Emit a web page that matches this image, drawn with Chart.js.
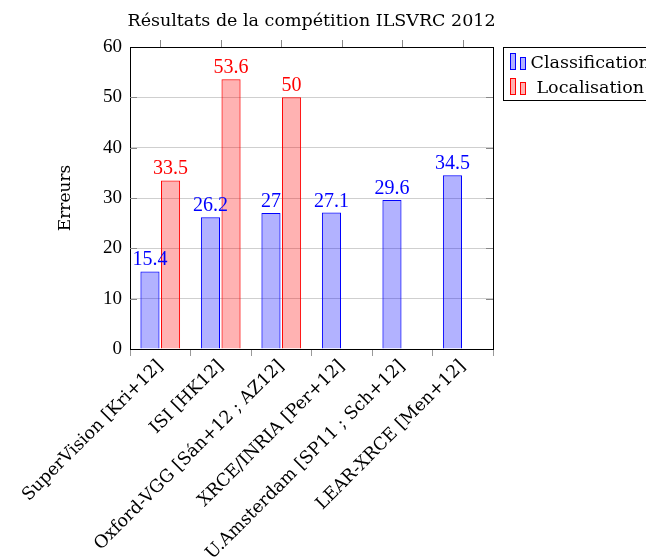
<!DOCTYPE html>
<html>
<head>
<meta charset="utf-8">
<script src="https://cdn.jsdelivr.net/npm/chart.js@4.4.1/dist/chart.umd.min.js"></script>
<style>
  html, body { margin: 0; padding: 0; background: #fff; }
</style>
</head>
<body>
<canvas id="myChart" width="646" height="558"></canvas>
<script>
let labels = ["SuperVision [Kri+12]", "ISI [HK12]", "Oxford-VGG [Sán+12 ; AZ12]", "XRCE/INRIA [Per+12]", "U.Amsterdam [SP11 ; Sch+12]", "LEAR-XRCE [Men+12]"];
let classification = [15.4, 26.2, 27, 27.1, 29.6, 34.5];
let localisation = [33.5, 53.6, 50, null, null, null];
let seriesNames = ["Classification", "Localisation"];
let titleText = "Résultats de la compétition ILSVRC 2012";
let yTitle = "Erreurs";
let yMin = 0, yMax = 60, yStep = 10;

const textFont = "'DejaVu Serif', serif";
const numFont = "'Liberation Serif', serif";

// value labels above bars + frame + legend + titles
const extras = {
  id: 'extras',
  afterDatasetsDraw(chart) {
    const ctx = chart.ctx;
    ctx.save();
    ctx.font = "20px " + numFont;
    ctx.textAlign = 'center';
    ctx.textBaseline = 'alphabetic';
    chart.data.datasets.forEach((ds, i) => {
      ctx.fillStyle = ds.borderColor;
      chart.getDatasetMeta(i).data.forEach((bar, j) => {
        if (ds.data[j] == null) return;
        ctx.fillText(String(ds.data[j]), bar.x, bar.y - 6);
      });
    });
    ctx.restore();
  },
  afterDraw(chart) {
    const ctx = chart.ctx;
    const a = chart.chartArea;
    ctx.save();
    ctx.strokeStyle = '#000';
    ctx.lineWidth = 1;
    ctx.strokeRect(Math.round(a.left) + 0.5, Math.round(a.top) + 0.5, Math.round(a.right - a.left), Math.round(a.bottom - a.top));
    // top ticks
    ctx.strokeStyle = '#888';
    const xs = chart.scales.x;
    labels.forEach((l, i) => {
      const x = Math.round(xs.getPixelForValue(i)) + 0.5;
      ctx.beginPath();
      ctx.moveTo(x, a.top - 7);
      ctx.lineTo(x, a.top);
      ctx.stroke();
    });
    // y ticks on both sides, inside
    const ys = chart.scales.y;
    for (let v = yMin + yStep; v < yMax; v += yStep) {
      const y = Math.round(ys.getPixelForValue(v)) + 0.5;
      ctx.beginPath();
      ctx.moveTo(a.left, y); ctx.lineTo(a.left + 7, y);
      ctx.moveTo(a.right - 7, y); ctx.lineTo(a.right, y);
      ctx.stroke();
    }
    // title
    ctx.fillStyle = '#000';
    ctx.font = "17.5px " + textFont;
    ctx.textAlign = 'center';
    ctx.textBaseline = 'middle';
    ctx.fillText(titleText, (a.left + a.right) / 2, 21);
    // y axis title
    ctx.save();
    ctx.translate(66, (a.top + a.bottom) / 2);
    ctx.rotate(-Math.PI / 2);
    ctx.font = "17px " + textFont;
    ctx.fillText(yTitle, 0, 0);
    ctx.restore();
    // legend
    const lx = 503.5, ly = 47.5;
    ctx.strokeStyle = '#000';
    ctx.strokeRect(lx, ly, 200, 53);
    ctx.font = "17.5px " + textFont;
    ctx.textBaseline = 'middle';
    ctx.textAlign = 'left';
    chart.data.datasets.forEach((ds, i) => {
      const cy = ly + 15 + i * 25;
      ctx.fillStyle = ds.backgroundColor;
      ctx.strokeStyle = ds.borderColor;
      ctx.fillRect(lx + 7, cy - 9, 5, 16);
      ctx.strokeRect(lx + 7, cy - 9, 5, 16);
      ctx.fillRect(lx + 17, cy - 5, 5, 12);
      ctx.strokeRect(lx + 17, cy - 5, 5, 12);
      ctx.fillStyle = '#000';
      ctx.fillText(seriesNames[i], lx + (i === 0 ? 27 : 33), cy + 1);
    });
    ctx.restore();
  }
};

let ctx = document.getElementById("myChart").getContext('2d');

let chart = new Chart(ctx, {
  type: 'bar',
  data: {
    labels: labels,
    datasets: [{
      label: seriesNames[0],
      data: classification,
      backgroundColor: 'rgba(0, 0, 255, 0.3)',
      borderColor: 'rgb(0, 0, 255)',
      borderWidth: 1,
      categoryPercentage: 0.68,
      barPercentage: 0.93
    }, {
      label: seriesNames[1],
      data: localisation,
      backgroundColor: 'rgba(255, 0, 0, 0.3)',
      borderColor: 'rgb(255, 0, 0)',
      borderWidth: 1,
      categoryPercentage: 0.68,
      barPercentage: 0.93
    }]
  },
  options: {
    responsive: false,
    animation: false,
    layout: { padding: { top: 47, right: 153, left: 0, bottom: 0 } },
    plugins: {
      legend: { display: false },
      tooltip: { enabled: false },
      title: { display: false }
    },
    scales: {
      x: {
        afterFit: s => { s.height = 209; },
        grid: { display: true, drawOnChartArea: false, color: '#999', tickLength: 7 },
        border: { color: '#000' },
        ticks: {
          color: '#000',
          maxRotation: 45, minRotation: 45,
          font: { family: textFont, size: 17.5 },
          padding: 0
        }
      },
      y: {
        min: yMin, max: yMax,
        afterFit: s => { s.width = 130; },
        grid: { color: '#cfcfcf', drawTicks: false },
        border: { color: '#000' },
        ticks: {
          stepSize: yStep,
          color: '#000',
          padding: 8,
          font: { family: numFont, size: 19 }
        }
      }
    }
  },
  plugins: [extras]
});
</script>
</body>
</html>
